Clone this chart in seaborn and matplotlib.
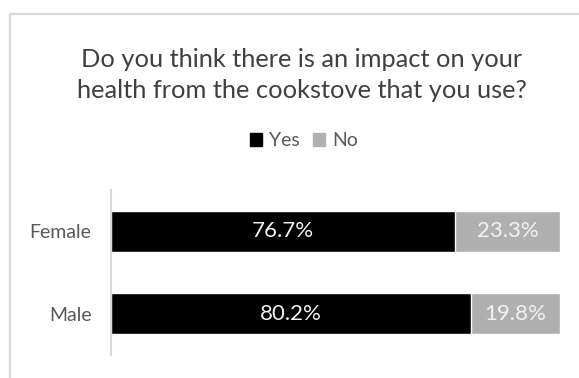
import matplotlib
matplotlib.use("Agg")
import matplotlib.pyplot as plt
from matplotlib.lines import Line2D
from matplotlib.patches import Rectangle
import seaborn as sns
import pandas as pd

# Survey answers by gender (percent of respondents)
genders = ["Female", "Male"]
yes_pct = [76.7, 80.2]
no_pct = [23.3, 19.8]

title = "Do you think there is an impact on your\nhealth from the cookstove that you use?"
series_names = ["Yes", "No"]

YES_COLOR = "#000000"
NO_COLOR = "#b0b0b0"
TEXT_COLOR = "#595959"
FONT = ["Lato", "DejaVu Sans"]

sns.set_theme(style="white")
plt.rcParams["font.family"] = FONT

W, H = 579, 378
fig = plt.figure(figsize=(W / 100, H / 100), dpi=100)


def fx(px):
    return px / W


def fy(py):
    return 1 - py / H


# chart-area border (top and left edges visible)
fig.add_artist(Line2D([fx(10), fx(579)], [fy(14), fy(14)], color="#d9d9d9", lw=1.6))
fig.add_artist(Line2D([fx(10), fx(10)], [fy(14), fy(378)], color="#d9d9d9", lw=1.6))

ax = fig.add_axes([fx(111), fy(355), fx(560) - fx(111), fy(190) - fy(355)])

df = pd.DataFrame({"gender": genders, "yes": yes_pct, "no": no_pct})
df["total"] = df["yes"] + df["no"]

# stacked bars: full-length "No" colour underneath, "Yes" drawn over it
sns.barplot(data=df, x="total", y="gender", color=NO_COLOR, width=0.5,
            saturation=1, ax=ax, orient="h")
sns.barplot(data=df, x="yes", y="gender", color=YES_COLOR, width=0.5,
            saturation=1, ax=ax, orient="h")

ax.set_xlim(0, 100)
ax.set_ylim(1.5, -0.5)
ax.set_xlabel("")
ax.set_ylabel("")
ax.set_xticks([])
ax.tick_params(axis="y", length=0, pad=14, labelsize=14, labelcolor=TEXT_COLOR)
for s in ["top", "right", "bottom"]:
    ax.spines[s].set_visible(False)
ax.spines["left"].set_color("#d9d9d9")
ax.spines["left"].set_linewidth(1.5)

for i, (y, n) in enumerate(zip(df["yes"], df["no"])):
    ax.text(y / 2, i, f"{y:.1f}%", ha="center", va="center",
            color="#f2f2f2", fontsize=16)
    ax.text(y + n / 2, i, f"{n:.1f}%", ha="center", va="center",
            color="#f2f2f2", fontsize=16)

fig.text(fx(302), fy(75), title, ha="center", va="center", fontsize=18.3,
         color="#404040", linespacing=1.4)

handles = [Rectangle((0, 0), 1, 1, color=YES_COLOR),
           Rectangle((0, 0), 1, 1, color=NO_COLOR)]
fig.legend(handles, series_names, loc="center", bbox_to_anchor=(fx(304), fy(141)),
           ncol=2, frameon=False, fontsize=14, labelcolor=TEXT_COLOR,
           handlelength=0.62, handleheight=0.62, handletextpad=0.35,
           columnspacing=0.7)

fig.savefig("out.png", dpi=100, facecolor="white")
